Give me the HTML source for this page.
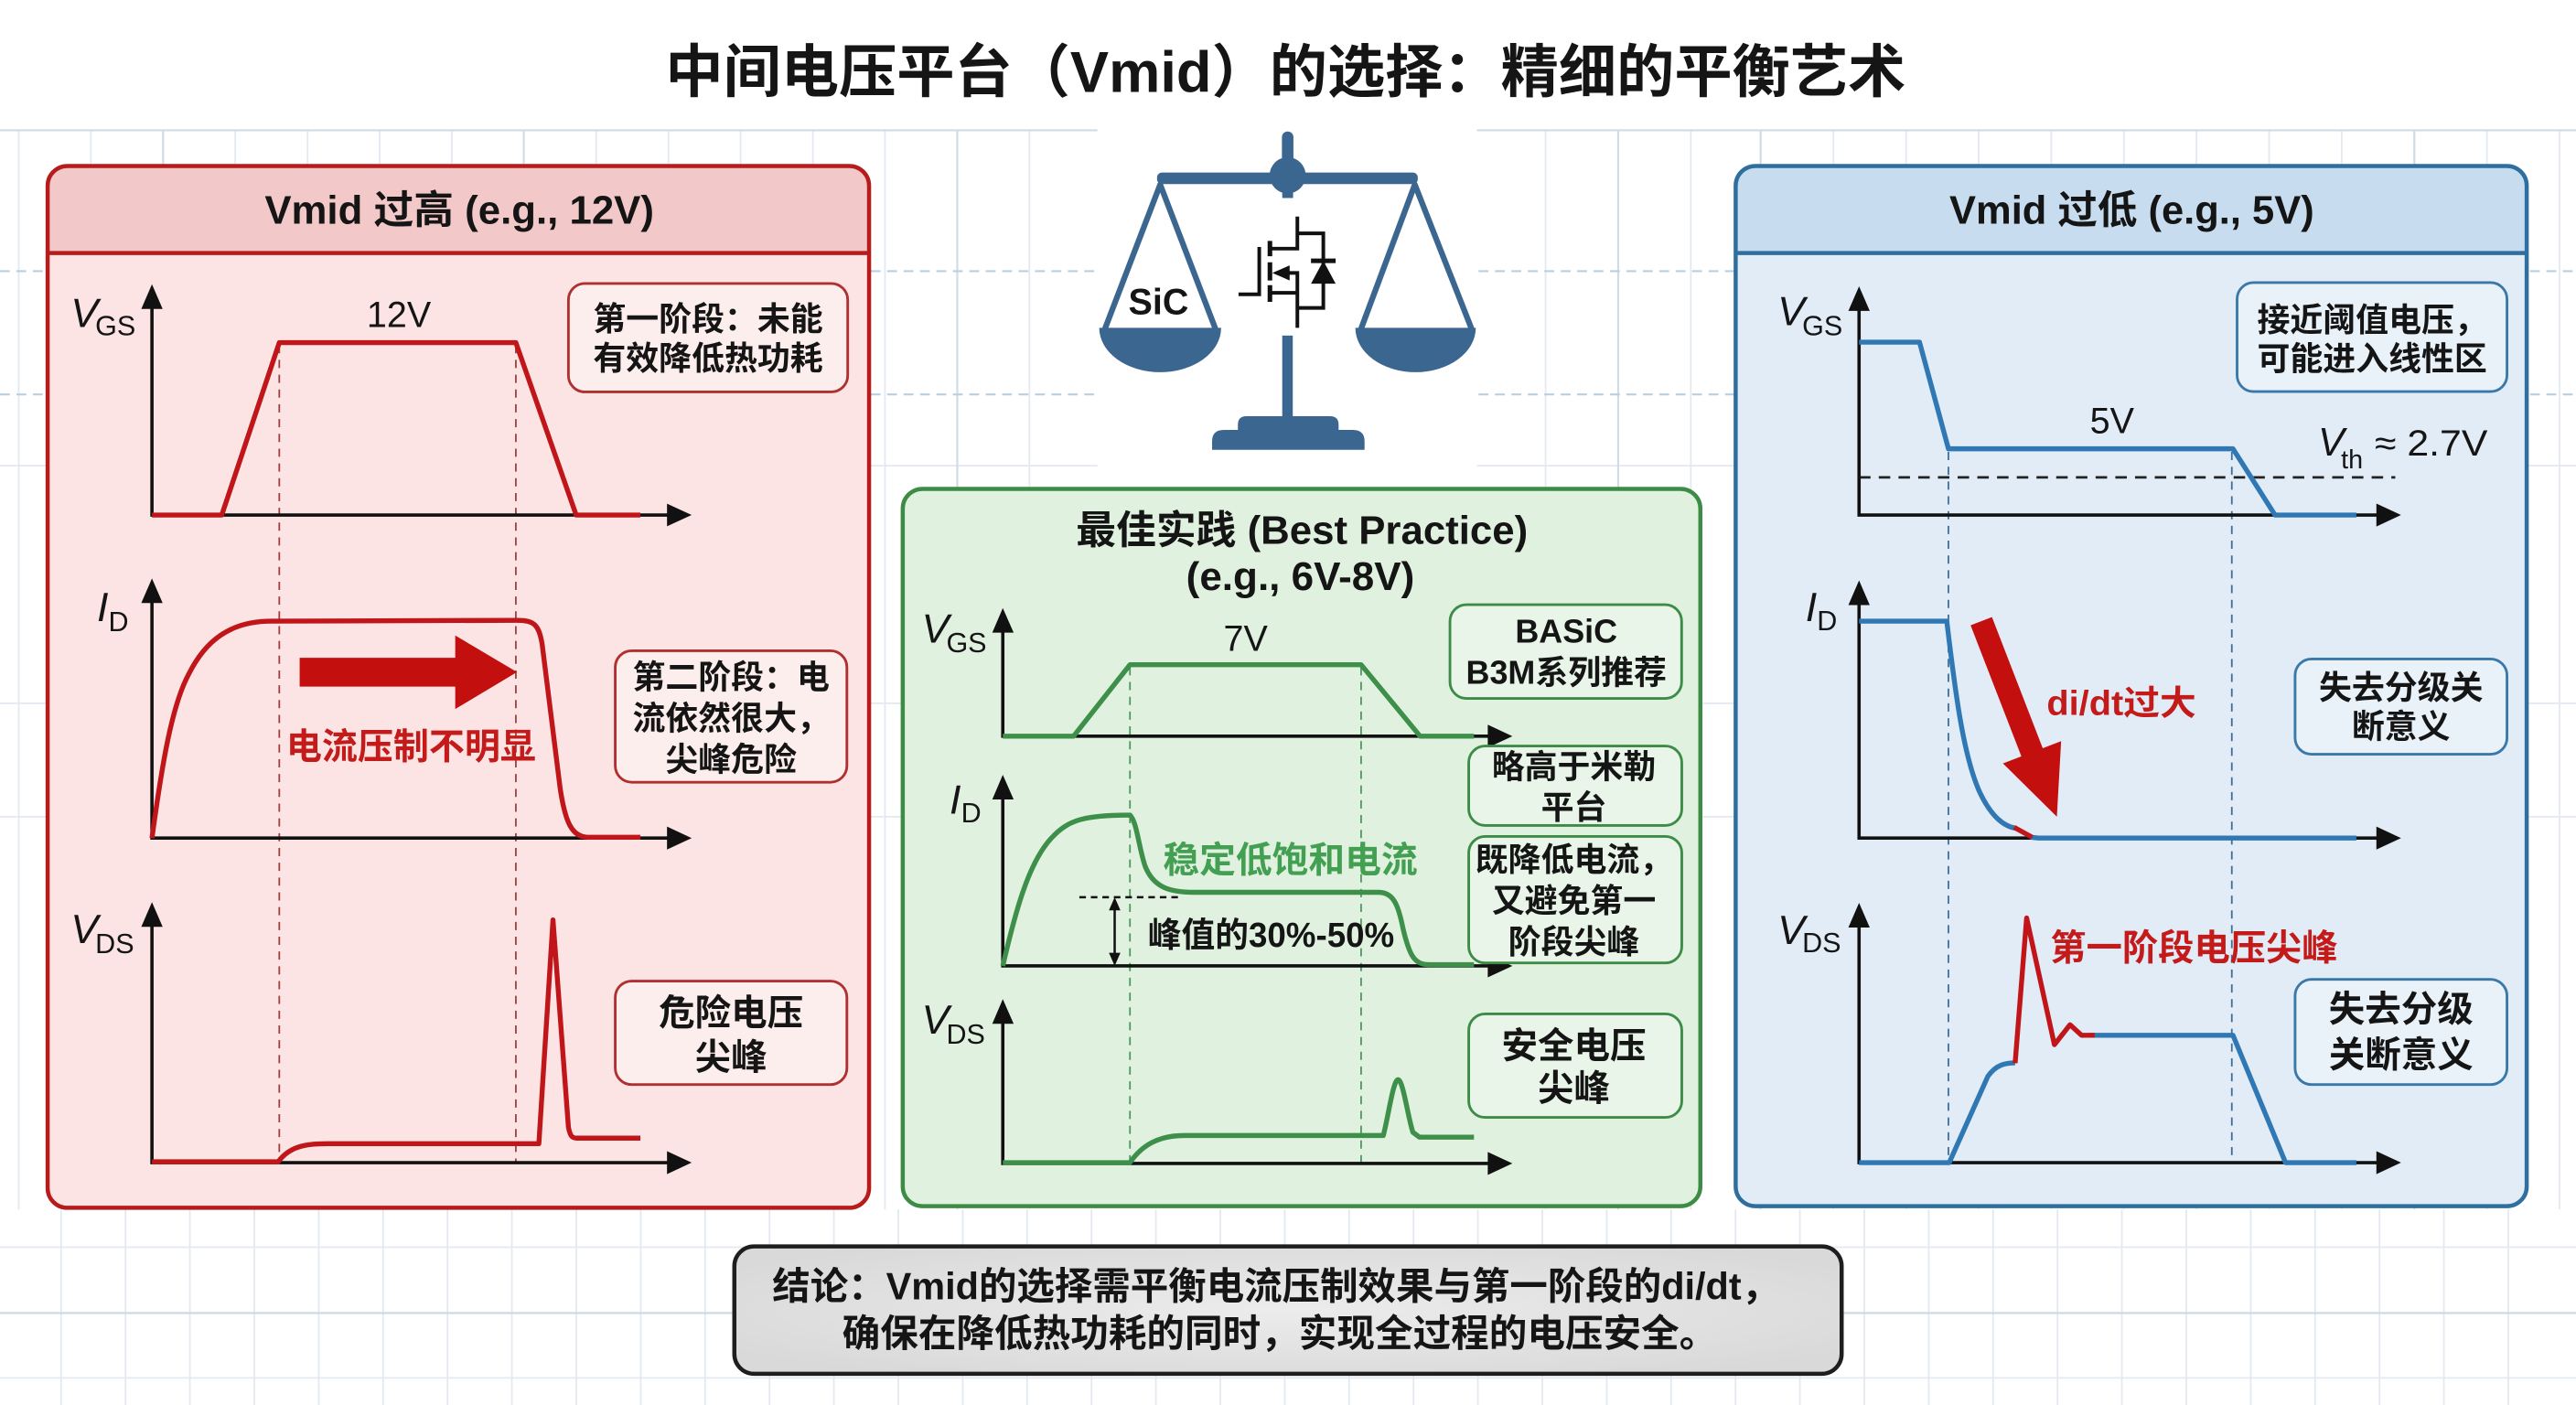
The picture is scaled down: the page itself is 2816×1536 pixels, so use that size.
<!DOCTYPE html>
<html><head><meta charset="utf-8">
<style>
html,body{margin:0;padding:0;background:#fff;overflow:hidden;}
svg{display:block;}
text{font-family:"Liberation Sans","Noto Sans CJK SC",sans-serif;fill:#151515;}
.b{font-weight:bold;}
.c{text-anchor:middle;}
.it{font-style:italic;}
</style></head><body>
<svg width="2816" height="1536" viewBox="0 0 1568 855" preserveAspectRatio="none" xmlns="http://www.w3.org/2000/svg">
<defs>
<radialGradient id="gc" cx="50%" cy="50%" r="60%">
<stop offset="0" stop-color="#ececec"/><stop offset="1" stop-color="#d9d9d9"/>
</radialGradient>
</defs>
<rect width="1568" height="855" fill="#fff"/>

<!-- grid top -->
<g stroke="#e3e9f0" stroke-width="1">
<path d="M11.4,79V736M55.3,79V736M143.2,79V736M187.2,79V736M231.1,79V736M275,79V736M362.9,79V736M406.9,79V736M450.8,79V736M494.8,79V736M538.7,79V736M626.6,79V736M940.8,79V736M1029.2,79V736M1116,79V736M1160.2,79V736M1204.4,79V736M1248.6,79V736M1292.8,79V736M1337,79V736M1381.2,79V736M1425.4,79V736M1513.8,79V736M1558,79V736"/>
<path d="M0,283.4H1568M0,428H1568M0,497H1568"/>
</g>
<g stroke="#cfdbe6" stroke-width="1.2">
<path d="M99.3,79V736M318.8,79V736M582.7,79V736M985,79V736M1071.7,79V736M1469.6,79V736"/>
<path d="M0,79.3H1568"/>
</g>
<g stroke="#b9cfe0" stroke-width="1.2" stroke-dasharray="6,4">
<path d="M0,165H1568M0,240H1568"/>
</g>
<!-- grid bottom -->
<g stroke="#e3e9f0" stroke-width="1">
<path d="M37.2,736V855M76.4,736V855M115.6,736V855M154.8,736V855M194,736V855M233.2,736V855M272.4,736V855M311.6,736V855M350.8,736V855M390,736V855M429.2,736V855M468.4,736V855M507.6,736V855M546.8,736V855M586,736V855M625.2,736V855M664.4,736V855M703.6,736V855M742.8,736V855M782,736V855M821.2,736V855M860.4,736V855M899.6,736V855M938.8,736V855M978,736V855M1017.2,736V855M1056.4,736V855M1095.6,736V855M1134.8,736V855M1174,736V855M1213.2,736V855M1252.4,736V855M1291.6,736V855M1330.8,736V855M1370,736V855M1409.2,736V855M1448.4,736V855M1487.6,736V855M1526.8,736V855"/>
<path d="M0,759H1568M0,838.5H1568"/>
</g>
<path d="M0,799H1568" stroke="#cfdbe6" stroke-width="1.3"/>

<!-- white area behind scale icon -->
<rect x="668" y="70" width="231" height="226" fill="#fff"/>

<!-- Title -->
<text x="782.5" y="56" font-size="35" class="b c" textLength="755" lengthAdjust="spacingAndGlyphs">中间电压平台（Vmid）的选择：精细的平衡艺术</text>

<!-- ============ LEFT PANEL ============ -->
<rect x="29" y="101" width="500" height="634" rx="12" fill="#fce4e4"/>
<path d="M29,154 L29,113 Q29,101 41,101 L517,101 Q529,101 529,113 L529,154 Z" fill="#f3c8c8"/>
<rect x="29" y="101" width="500" height="634" rx="12" fill="none" stroke="#b71c1c" stroke-width="2.5"/>
<line x1="29" y1="154" x2="529" y2="154" stroke="#b71c1c" stroke-width="2.5"/>
<text x="279.6" y="136" font-size="24" class="b c" textLength="237" lengthAdjust="spacingAndGlyphs">Vmid 过高 (e.g., 12V)</text>

<!-- dashed verticals -->
<g stroke="#9c4040" stroke-width="1" stroke-dasharray="5,4">
<line x1="170" y1="210" x2="170" y2="707"/>
<line x1="314" y1="210" x2="314" y2="707"/>
</g>
<!-- axes -->
<g stroke="#111" stroke-width="2" fill="none">
<path d="M92.5,185V313.4H408"/>
<path d="M92.5,364V510H408"/>
<path d="M92.5,561V707.5H408"/>
</g>
<g fill="#111">
<polygon points="92.5,173 86,188 99,188"/>
<polygon points="421,313.4 406,306.5 406,320.3"/>
<polygon points="92.5,352 86,367 99,367"/>
<polygon points="421,510 406,503 406,517"/>
<polygon points="92.5,549 86,564 99,564"/>
<polygon points="421,707.5 406,700.5 406,714.5"/>
</g>
<!-- waveforms -->
<g stroke="#c0161a" stroke-width="3" fill="none" stroke-linejoin="round">
<path d="M92.5,313.4 L135,313.4 L170,208.5 L314,208.5 L350.7,313.4 L389.8,313.4"/>
<path d="M92.5,510 C98,470 104,430 115,410 C125,390 140,378 165,378 L315,377.5 C325,377.5 328,380 330,392 L341,480 C344,500 348,509.5 358,509.5 L389.8,509.5"/>
<path d="M92.5,707 L169.3,707 C176,698 185,696 199,696 L328,696 L336.6,559.8 L346,686 C347,691 348,692.6 351,692.6 L389.8,692.6"/>
</g>
<!-- big red arrow -->
<polygon points="182.4,400.3 277.1,400.3 277.1,386.7 314.7,409 277.1,431.5 277.1,417.8 182.4,417.8" fill="#c40f0f"/>
<text x="250.2" y="462" font-size="22" class="b c" textLength="152" lengthAdjust="spacingAndGlyphs" style="fill:#c41a1a">电流压制不明显</text>
<text x="242.8" y="199" font-size="22" class="c">12V</text>
<!-- axis labels -->
<text x="43" y="199" font-size="25" class="it">V</text><text x="58" y="204" font-size="17">GS</text>
<text x="59" y="378" font-size="25" class="it">I</text><text x="66" y="384" font-size="17">D</text>
<text x="43" y="574" font-size="25" class="it">V</text><text x="58" y="580" font-size="17">DS</text>
<!-- callouts -->
<g fill="#fdeeee" stroke="#b03030" stroke-width="1.6">
<rect x="346" y="172.5" width="170" height="66" rx="10"/>
<rect x="374.5" y="396" width="141" height="80" rx="10"/>
<rect x="374.5" y="597" width="141" height="63" rx="10"/>
</g>
<g font-size="20" class="b">
<text x="431" y="201" class="c">第一阶段：未能</text>
<text x="431" y="225" class="c">有效降低热功耗</text>
<text x="445" y="419" class="c">第二阶段：电</text>
<text x="445" y="444" class="c">流依然很大，</text>
<text x="445" y="469" class="c">尖峰危险</text>
</g>
<g font-size="22" class="b">
<text x="445" y="624" class="c">危险电压</text>
<text x="445" y="651" class="c">尖峰</text>
</g>

<!-- ============ SCALE ICON ============ -->
<g fill="#3b6690">
<rect x="780.3" y="80" width="7" height="24" rx="3.5"/>
<circle cx="783.8" cy="106.7" r="11"/>
<rect x="704.3" y="105" width="158.7" height="7" rx="3"/>
<rect x="780.5" y="110" width="6.6" height="10.5"/>
<rect x="780.5" y="204.2" width="6.4" height="51"/>
<path d="M753.5,262 L753.5,258.5 Q753.5,253.3 758.7,253.3 L809.6,253.3 Q814.8,253.3 814.8,258.5 L814.8,262 Z"/>
<path d="M737.8,273.7 L737.8,268.5 Q737.8,261.6 745,261.6 L823.4,261.6 Q830.6,261.6 830.6,268.5 L830.6,273.7 Z"/>
<path d="M669.1,199.5 A37.1,27 0 0 0 743.3,199.5 Z"/>
<path d="M825,199.5 A36.65,27 0 0 0 898.3,199.5 Z"/>
</g>
<g stroke="#3b6690" stroke-width="3.5" fill="none" stroke-linecap="round" stroke-linejoin="round">
<path d="M672.8,199.5 L706.2,112.3 L739.6,199.5"/>
<path d="M828.7,199.5 L861.2,112.3 L895.5,199.5"/>
</g>
<text x="705.2" y="191.2" font-size="22" class="b c">SiC</text>
<!-- MOSFET -->
<g stroke="#111" stroke-width="2.2" fill="none">
<path d="M753.9,179.1 H766.5 V150.3"/>
<path d="M773,151.3 H789.7 V131.8"/>
<path d="M789.7,142 H805.5 V187.4 H789.7"/>
<path d="M773,178.2 H789.7"/>
<path d="M780,166.1 H789.7 V199.5"/>
</g>
<g stroke="#111" stroke-width="2.8">
<path d="M773,146.6V155.9M773,159.6V170.7M773,173.5V183.7"/>
<path d="M798,158.7H813"/>
</g>
<g fill="#111">
<polygon points="774.5,166.1 785,161.5 785,170.7"/>
<polygon points="805.5,158.7 798,172.6 813,172.6"/>
</g>

<!-- ============ MIDDLE PANEL ============ -->
<rect x="549.5" y="297.5" width="485.5" height="436.5" rx="12" fill="#e0f1e0" stroke="#3c8c46" stroke-width="2.5"/>
<text x="792.5" y="331" font-size="24" class="b c" textLength="275" lengthAdjust="spacingAndGlyphs">最佳实践 (Best Practice)</text>
<text x="791.5" y="359" font-size="24" class="b c" textLength="139" lengthAdjust="spacingAndGlyphs">(e.g., 6V-8V)</text>
<g stroke="#4a9a5a" stroke-width="1" stroke-dasharray="5,4">
<line x1="687.8" y1="406" x2="687.8" y2="708"/>
<line x1="828.5" y1="406" x2="828.5" y2="708"/>
</g>
<g stroke="#111" stroke-width="2" fill="none">
<path d="M610.4,382V448H908"/>
<path d="M610.4,483V587.8H908"/>
<path d="M610.4,620V708H908"/>
</g>
<g fill="#111">
<polygon points="610.4,370 604,385 617,385"/>
<polygon points="920.6,448 905.6,441 905.6,455"/>
<polygon points="610.4,471.5 604,486.5 617,486.5"/>
<polygon points="920.6,587.8 905.6,580.8 905.6,594.8"/>
<polygon points="610.4,608 604,623 617,623"/>
<polygon points="920.6,708 905.6,701 905.6,715"/>
</g>
<g stroke="#3d8f4a" stroke-width="3" fill="none" stroke-linejoin="round">
<path d="M610.4,448 L653.5,448 L687.8,404.5 L828.5,404.5 L864.4,448 L897.2,448"/>
<path d="M610.4,587.8 C618,555 626,525 640,510 C650,499 660,496 687.8,496 C692,500 693,515 697,527 C702,540 712,543 727,543 L839,543 C848,543 851,550 854,565 C858,582 861,587 870,587 L897.2,587"/>
<path d="M610.4,707.5 L687.8,707.5 C695,697 705,691 721,691 L842,691 C845,680 848,657 851,657 C854,657 857,680 860,689 L864,692 L897.2,692"/>
</g>
<!-- 30-50% marker -->
<line x1="657" y1="546" x2="717" y2="546" stroke="#111" stroke-width="1.4" stroke-dasharray="4,3"/>
<line x1="678.5" y1="552" x2="678.5" y2="582" stroke="#111" stroke-width="1.4"/>
<polygon points="678.5,546 675,554 682,554" fill="#111"/>
<polygon points="678.5,587.8 675,579.8 682,579.8" fill="#111"/>
<text x="785.4" y="531" font-size="22" class="b c" textLength="155" lengthAdjust="spacingAndGlyphs" style="fill:#43a052">稳定低饱和电流</text>
<text x="773.7" y="576" font-size="21" class="b c" textLength="150" lengthAdjust="spacingAndGlyphs">峰值的30%-50%</text>
<text x="758.2" y="396" font-size="22" class="c">7V</text>
<text x="561" y="391" font-size="25" class="it">V</text><text x="576" y="397" font-size="17">GS</text>
<text x="578" y="495" font-size="25" class="it">I</text><text x="585" y="500.5" font-size="17">D</text>
<text x="561" y="629" font-size="25" class="it">V</text><text x="576" y="635" font-size="17">DS</text>
<g fill="#e8f5e8" stroke="#3c8c46" stroke-width="1.6">
<rect x="882.6" y="368" width="141" height="57" rx="10"/>
<rect x="894" y="454" width="129.7" height="48.3" rx="10"/>
<rect x="894" y="509" width="129.7" height="77" rx="10"/>
<rect x="894" y="617" width="129.7" height="63" rx="10"/>
</g>
<g font-size="20" class="b">
<text x="953.4" y="391" class="c">BASiC</text>
<text x="953.4" y="416" class="c">B3M系列推荐</text>
<text x="958" y="473.5" class="c">略高于米勒</text>
<text x="958" y="498.3" class="c">平台</text>
<text x="958" y="530" class="c">既降低电流，</text>
<text x="958" y="555" class="c">又避免第一</text>
<text x="958" y="580" class="c">阶段尖峰</text>
</g>
<g font-size="22" class="b">
<text x="958" y="644" class="c">安全电压</text>
<text x="958" y="670" class="c">尖峰</text>
</g>

<!-- ============ RIGHT PANEL ============ -->
<rect x="1056.5" y="101" width="481.5" height="633" rx="12" fill="#e2ecf6"/>
<path d="M1056.5,154 L1056.5,113 Q1056.5,101 1068.5,101 L1526,101 Q1538,101 1538,113 L1538,154 Z" fill="#c7ddef"/>
<rect x="1056.5" y="101" width="481.5" height="633" rx="12" fill="none" stroke="#2f6fa0" stroke-width="2.5"/>
<line x1="1056.5" y1="154" x2="1538" y2="154" stroke="#2f6fa0" stroke-width="2.5"/>
<text x="1297.6" y="136" font-size="24" class="b c" textLength="222" lengthAdjust="spacingAndGlyphs">Vmid 过低 (e.g., 5V)</text>

<g stroke="#3f6f99" stroke-width="1" stroke-dasharray="5,4">
<line x1="1186" y1="275" x2="1186" y2="707"/>
<line x1="1358.5" y1="275" x2="1358.5" y2="707"/>
</g>
<line x1="1131.6" y1="290.5" x2="1458" y2="290.5" stroke="#222" stroke-width="1.5" stroke-dasharray="7,5"/>
<g stroke="#111" stroke-width="2" fill="none">
<path d="M1131.6,186V313.4H1449"/>
<path d="M1131.6,365V510H1449"/>
<path d="M1131.6,561V707.5H1449"/>
</g>
<g fill="#111">
<polygon points="1131.6,174.2 1125.1,189.2 1138.1,189.2"/>
<polygon points="1461.5,313.4 1446.5,306.4 1446.5,320.4"/>
<polygon points="1131.6,353.2 1125.1,368.2 1138.1,368.2"/>
<polygon points="1461.5,510 1446.5,503 1446.5,517"/>
<polygon points="1131.6,549.4 1125.1,564.4 1138.1,564.4"/>
<polygon points="1461.5,707.5 1446.5,700.5 1446.5,714.5"/>
</g>
<g stroke="#2f78b4" stroke-width="3" fill="none" stroke-linejoin="round">
<path d="M1131.6,208.2 L1168.4,208.2 L1186,273.1 L1359.2,273.1 L1384.8,313.4 L1434.3,313.4"/>
<path d="M1131.6,378 L1185,378 C1190,420 1195,460 1205,482 C1212,497 1220,503 1227,504"/>
<path d="M1236,509.5 L1241,510 L1434.3,510"/>
<path d="M1131.6,707.5 L1186.5,707.5 L1210,655 C1215,648 1220,647 1226.6,646.8"/>
<path d="M1272,630 L1359.2,630 L1391.2,707.5 L1434.3,707.5"/>
</g>
<g stroke="#c0161a" stroke-width="3" fill="none" stroke-linejoin="round">
<path d="M1226,503.5 L1237,509.5"/>
<path d="M1226.6,647 L1233.6,558.6 L1250.5,635.7 L1260,623.6 L1267,630 L1275,630"/>
</g>
<!-- diagonal red arrow -->
<polygon points="1199.5,380.5 1212.5,375.5 1243.4,455.3 1254.6,451 1252,497 1219.2,464.6 1230.4,460.3" fill="#c40f0f"/>
<text x="1291.3" y="435" font-size="21" class="b c" textLength="91" lengthAdjust="spacingAndGlyphs" style="fill:#c41a1a">di/dt过大</text>
<text x="1335.5" y="584.6" font-size="22" class="b c" textLength="175" lengthAdjust="spacingAndGlyphs" style="fill:#c41a1a">第一阶段电压尖峰</text>
<text x="1285.6" y="263.7" font-size="22" class="c">5V</text>
<text x="1411" y="277.3" font-size="24" class="it">V</text><text x="1425" y="285" font-size="16">th</text>
<text x="1445.5" y="277.3" font-size="22" textLength="68.7" lengthAdjust="spacingAndGlyphs">≈ 2.7V</text>
<text x="1082" y="198" font-size="25" class="it">V</text><text x="1097" y="204" font-size="17">GS</text>
<text x="1099" y="378" font-size="25" class="it">I</text><text x="1106" y="383.5" font-size="17">D</text>
<text x="1082" y="574.4" font-size="25" class="it">V</text><text x="1097" y="579.5" font-size="17">DS</text>
<g fill="#eaf2f9" stroke="#3a78a8" stroke-width="1.6">
<rect x="1361.7" y="172" width="164.3" height="66.3" rx="10"/>
<rect x="1397" y="401" width="129" height="58" rx="10"/>
<rect x="1397" y="596" width="129" height="64" rx="10"/>
</g>
<g font-size="20" class="b">
<text x="1443.9" y="201.6" class="c">接近阈值电压，</text>
<text x="1443.9" y="225.2" class="c">可能进入线性区</text>
<text x="1461.5" y="425.3" class="c">失去分级关</text>
<text x="1461.5" y="449" class="c">断意义</text>
</g>
<g font-size="22" class="b">
<text x="1461.5" y="621.8" class="c">失去分级</text>
<text x="1461.5" y="649.6" class="c">关断意义</text>
</g>

<!-- ============ CONCLUSION ============ -->
<rect x="447" y="758.5" width="674" height="77.5" rx="12" fill="url(#gc)" stroke="#1e1e1e" stroke-width="2.5"/>
<text x="776.6" y="790.6" font-size="23" class="b c" textLength="613" lengthAdjust="spacingAndGlyphs">结论：Vmid的选择需平衡电流压制效果与第一阶段的di/dt，</text>
<text x="779" y="819.4" font-size="23" class="b c" textLength="532.7" lengthAdjust="spacingAndGlyphs">确保在降低热功耗的同时，实现全过程的电压安全。</text>
</svg>
</body></html>
